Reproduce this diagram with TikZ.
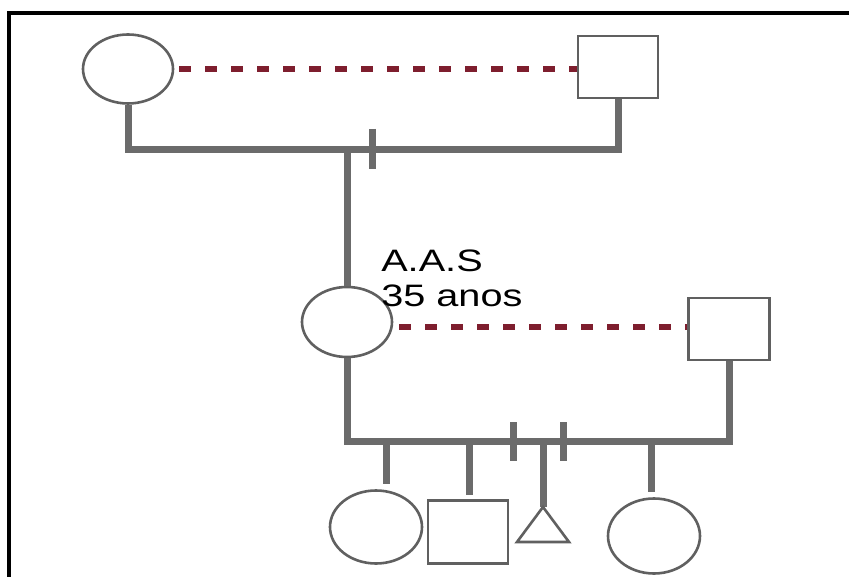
\documentclass[tikz,border=0pt]{standalone}
\usepackage{fontspec}
\setmainfont{Liberation Sans}
\usetikzlibrary{shapes.geometric}
\definecolor{linegray}{HTML}{6B6B6B}
\definecolor{shapegray}{HTML}{606060}
\definecolor{marry}{HTML}{7E1E2E}
\tikzset{
  female/.style={ellipse, draw=shapegray, line width=2.6pt, fill=white, minimum width=#1},
  male/.style={rectangle, draw=shapegray, line width=2.6pt, fill=white},
  bond/.style={draw=marry, line width=6.5pt, dash pattern=on 12pt off 14pt},
  line/.style={draw=linegray, line width=7pt},
  twin/.style={draw=linegray, line width=7pt},
  lbl/.style={font=\fontsize{31}{36}\selectfont, inner sep=0pt, anchor=base west, transform shape, xscale=1.28}
}
\begin{document}
\begin{tikzpicture}[x=1pt,y=-1pt]
\useasboundingbox (0,0) rectangle (849,577);
\fill[white] (0,0) rectangle (849,577);
% frame
\draw[black, line width=3.5pt] (9,577) -- (9,13) -- (849,13);

% generation I
\node[female=90pt, minimum height=69pt] (gm) at (128,69) {};
\node[male, minimum width=80pt, minimum height=62pt] (gf) at (618,67) {};
\draw[bond] (gm.east) ++(5,0) coordinate (b1s) (b1s) -- (gf.west |- b1s);
\coordinate (s1l) at (128,150);
\coordinate (s1r) at (618,150);
\coordinate (s1d) at (347,150);
\draw[line] (gm.south) -- (s1l) -- (s1r) -- (gf.south);
\coordinate (tk1a) at (372,129);
\coordinate (tk1b) at (372,169);
\draw[twin] (tk1a) -- (tk1b);

% generation II
\node[female=90pt, minimum height=70pt] (ind) at (347,322) {};
\node[male, minimum width=81pt, minimum height=62pt] (sp) at (729,329) {};
\draw[line] (s1d) -- (ind.north);
\draw[bond] (ind.east) ++(6,5) coordinate (b2s) (b2s) -- (sp.west |- b2s);
\node[lbl] (name) at (381,272) {A.A.S};
\node[lbl] (age) at (381,307) {35 anos};

\coordinate (s2l) at (347,441);
\coordinate (s2r) at (729,441);
\draw[line] (ind.south) -- (s2l) -- (s2r) -- (sp.south);

% generation III
\node[female=92pt, minimum height=73pt] (c1) at (376,527) {};
\node[male, minimum width=80pt, minimum height=63pt] (c2) at (468,532) {};
\node[female=92pt, minimum height=75pt] (c4) at (654,536) {};
\coordinate (c1t) at (386,441);
\coordinate (c1b) at (386,484);
\coordinate (c2t) at (469,441);
\coordinate (c2b) at (469,495);
\coordinate (c3t) at (543,441);
\coordinate (tri) at (543,507);
\coordinate (c4t) at (651,441);
\coordinate (c4b) at (651,492);
\draw[line] (c1t) -- (c1b);
\draw[line] (c2t) -- (c2b);
\draw[line] (c3t) -- (tri);
\draw[line] (c4t) -- (c4b);
\draw[draw=shapegray, line width=2.6pt, line join=miter, fill=white] (tri) -- ++(-26,35) -- ++(52,0) -- cycle;
\coordinate (tk2a) at (513,422);
\coordinate (tk2b) at (513,461);
\coordinate (tk3a) at (563,422);
\coordinate (tk3b) at (563,461);
\draw[twin] (tk2a) -- (tk2b);
\draw[twin] (tk3a) -- (tk3b);
\end{tikzpicture}
\end{document}
